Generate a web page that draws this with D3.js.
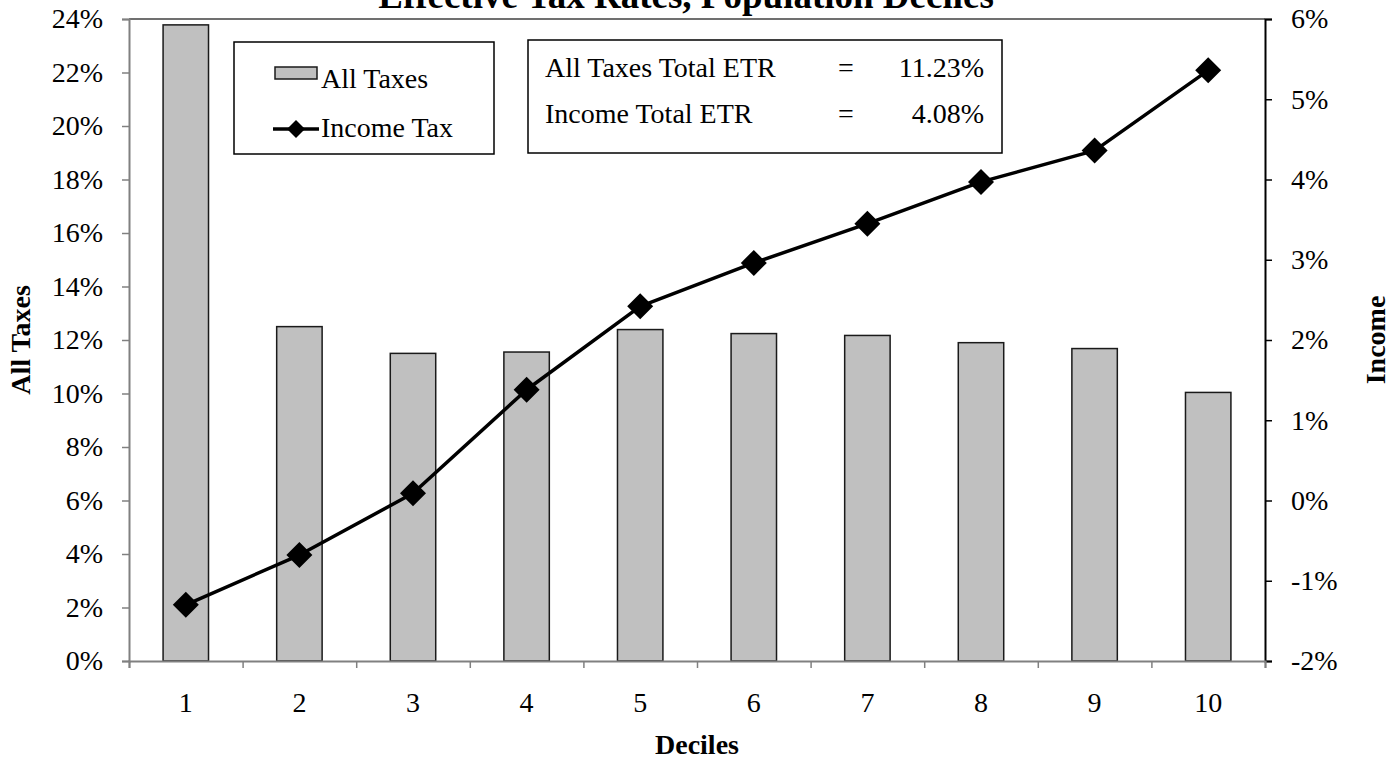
<!DOCTYPE html>
<html>
<head>
<meta charset="utf-8">
<script src="https://cdn.jsdelivr.net/npm/d3@7"></script>
<style>
  html, body { margin: 0; padding: 0; background: #fff; }
  svg text { font-family: "Liberation Serif", "Times New Roman", serif; fill: #000; }
</style>
</head>
<body>
<svg id="chart" width="1395" height="759"></svg>
<script>
// ---- data ----
const categories = ["1","2","3","4","5","6","7","8","9","10"];
const allTaxes = [23.78, 12.50, 11.50, 11.55, 12.39, 12.24, 12.17, 11.90, 11.68, 10.04];
const incomeTax = [-1.30, -0.68, 0.09, 1.38, 2.42, 2.96, 3.45, 3.97, 4.36, 5.36];
const leftTicks = [0, 2, 4, 6, 8, 10, 12, 14, 16, 18, 20, 22, 24];
const rightTicks = [-2, -1, 0, 1, 2, 3, 4, 5, 6];
const seriesNames = ["All Taxes", "Income Tax"];
const summaryLabels = ["All Taxes Total ETR", "Income Total ETR"];
const summaryValues = ["11.23%", "4.08%"];
const titleText = "Effective Tax Rates, Population Deciles";

// ---- layout ----
const FONT = "'Liberation Serif','Times New Roman',serif";
const L = 129, R = 1265, T = 19, B = 661;
const svg = d3.select("#chart");

const x = d3.scaleBand().domain(categories).range([L, R]).paddingInner(0.6).paddingOuter(0.3);
const xb = d3.scaleLinear().domain([0, categories.length]).range([L, R]);
const yL = d3.scaleLinear().domain([0, 24]).range([B, T]);
const yR = d3.scaleLinear().domain([-2, 6]).range([B, T]);
const cx = c => x(c) + x.bandwidth() / 2;

// title
svg.append("text").attr("x", 686).attr("y", 8).attr("text-anchor", "middle")
  .attr("font-family", FONT).attr("font-size", 37).attr("font-weight", "bold").text(titleText);

// top border of plot
svg.append("line").attr("x1", L).attr("x2", R).attr("y1", T).attr("y2", T)
  .attr("stroke", "#404040").attr("stroke-width", 1.5);

// bars
svg.append("g").selectAll("rect").data(allTaxes).join("rect")
  .attr("x", (d, i) => x(categories[i]))
  .attr("y", d => yL(d))
  .attr("width", x.bandwidth())
  .attr("height", d => yL(0) - yL(d))
  .attr("fill", "#c0c0c0").attr("stroke", "#1a1a1a").attr("stroke-width", 1.5);

// left axis
const gL = svg.append("g").attr("transform", `translate(${L},0)`)
  .call(d3.axisLeft(yL).tickValues(leftTicks).tickSize(7).tickPadding(19).tickFormat(d => d + "%"));
gL.attr("font-family", FONT).attr("font-size", 28);
gL.select(".domain").attr("stroke", "#808080").attr("stroke-width", 2);
gL.selectAll(".tick line").attr("stroke", "#808080").attr("stroke-width", 1.5);
gL.selectAll("text").attr("fill", "#000");

// right axis
const gR = svg.append("g").attr("transform", `translate(${R},0)`)
  .call(d3.axisRight(yR).tickValues(rightTicks).tickSize(7).tickPadding(19).tickFormat(d => d + "%"));
gR.attr("font-family", FONT).attr("font-size", 28);
gR.select(".domain").attr("stroke", "#000").attr("stroke-width", 2);
gR.selectAll(".tick line").attr("stroke", "#000").attr("stroke-width", 1.5);
gR.selectAll("text").attr("fill", "#000");

// bottom axis: boundary ticks
const gB = svg.append("g").attr("transform", `translate(0,${B})`)
  .call(d3.axisBottom(xb).tickValues(d3.range(0, categories.length + 1)).tickSize(7).tickFormat(""));
gB.select(".domain").attr("stroke", "#808080").attr("stroke-width", 2);
gB.selectAll(".tick line").attr("stroke", "#808080").attr("stroke-width", 1.5);

// bottom axis: labels
const gBL = svg.append("g").attr("transform", `translate(0,${B})`)
  .call(d3.axisBottom(x).tickSize(0).tickPadding(31));
gBL.attr("font-family", FONT).attr("font-size", 28);
gBL.select(".domain").remove();
gBL.selectAll("text").attr("fill", "#000");

// line series
const line = d3.line().x((d, i) => cx(categories[i])).y(d => yR(d));
svg.append("path").datum(incomeTax).attr("d", line)
  .attr("fill", "none").attr("stroke", "#000").attr("stroke-width", 3.5).attr("stroke-linejoin", "round");
const diamond = (px, py, r) => `M${px},${py - r}L${px + r},${py}L${px},${py + r}L${px - r},${py}Z`;
svg.append("g").selectAll("path").data(incomeTax).join("path")
  .attr("d", (d, i) => diamond(cx(categories[i]), yR(d), 13))
  .attr("fill", "#000");

// axis titles
svg.append("text").attr("transform", "translate(30,340) rotate(-90)").attr("text-anchor", "middle")
  .attr("font-family", FONT).attr("font-size", 28).attr("font-weight", "bold").text("All Taxes");
svg.append("text").attr("transform", "translate(1385,340) rotate(-90)").attr("text-anchor", "middle")
  .attr("font-family", FONT).attr("font-size", 28).attr("font-weight", "bold").text("Income");
svg.append("text").attr("x", 697).attr("y", 754).attr("text-anchor", "middle")
  .attr("font-family", FONT).attr("font-size", 28).attr("font-weight", "bold").text("Deciles");

// legend
const lg = svg.append("g").attr("font-family", FONT).attr("font-size", 28);
lg.append("rect").attr("x", 234).attr("y", 42).attr("width", 260).attr("height", 112)
  .attr("fill", "#fff").attr("stroke", "#000").attr("stroke-width", 1.5);
lg.append("rect").attr("x", 275).attr("y", 67).attr("width", 42).attr("height", 12)
  .attr("fill", "#c0c0c0").attr("stroke", "#1a1a1a").attr("stroke-width", 1.5);
lg.append("text").attr("x", 321).attr("y", 88).text(seriesNames[0]);
lg.append("line").attr("x1", 273).attr("x2", 319).attr("y1", 129).attr("y2", 129)
  .attr("stroke", "#000").attr("stroke-width", 3.5);
lg.append("path").attr("d", diamond(296, 129, 9)).attr("fill", "#000");
lg.append("text").attr("x", 321).attr("y", 137).text(seriesNames[1]);

// summary box
const sb = svg.append("g").attr("font-family", FONT).attr("font-size", 28);
sb.append("rect").attr("x", 528).attr("y", 40).attr("width", 474).attr("height", 113)
  .attr("fill", "#fff").attr("stroke", "#000").attr("stroke-width", 1.5);
const rows = [77, 123];
summaryLabels.forEach((lab, i) => {
  sb.append("text").attr("x", 545).attr("y", rows[i]).text(lab);
  sb.append("text").attr("x", 846).attr("y", rows[i]).attr("text-anchor", "middle").text("=");
  sb.append("text").attr("x", 984).attr("y", rows[i]).attr("text-anchor", "end").text(summaryValues[i]);
});
</script>
</body>
</html>
